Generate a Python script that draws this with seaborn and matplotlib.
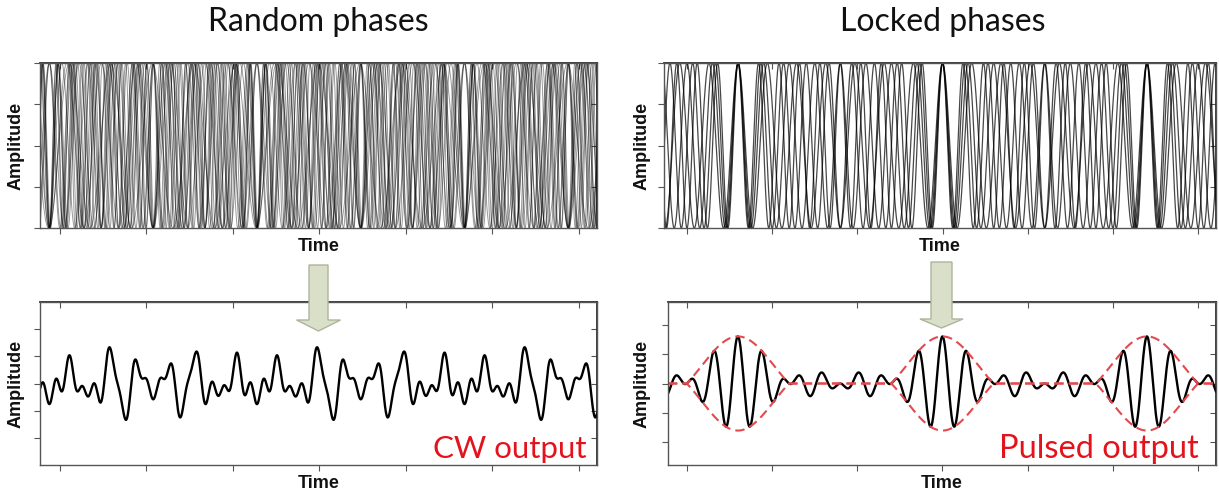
import numpy as np
import pandas as pd
import matplotlib
matplotlib.use("Agg")
import matplotlib.pyplot as plt
import seaborn as sns
from matplotlib.patches import Polygon

# repetition period of the mode comb, in the units of the x ticks (0..6)
PERIOD = 2.4
PULSE_T0 = 3.0

cw_time = [0.023, 0.070, 0.112, 0.158, 0.204, 0.254, 0.331, 0.397, 0.474, 0.525,
           0.574, 0.616, 0.658, 0.712, 0.766, 0.820, 0.870, 0.910, 0.947, 0.997,
           1.040, 1.082, 1.120, 1.159, 1.216, 1.282, 1.336, 1.390, 1.438, 1.486,
           1.534, 1.582, 1.630, 1.678, 1.755, 1.813, 1.882, 1.948, 2.000, 2.044,
           2.085, 2.121, 2.190, 2.256, 2.344]
cw_amp = [-0.24, 0.40, 1.07, 0.35, -0.30, -0.04, -0.45, -0.02, -0.67, 0.35,
          1.39, 0.75, 0.12, -0.60, -1.27, -0.15, 0.95, 0.55, 0.18, 0.21,
          -0.20, -0.64, -0.20, 0.24, 0.12, 0.81, -0.20, -1.21, -0.55, 0.12,
          0.70, 1.21, 0.25, -0.70, 0.06, -0.36, -0.08, -0.30, 0.40, 1.12,
          0.45, -0.24, -0.10, -0.63, 0.02]

# longitudinal modes (harmonics of 1/PERIOD)
random_modes = [5, 6, 7, 8, 9, 10, 11, 12, 13, 14, 15, 16]
locked_modes = [7, 8, 9, 10]
locked_amp = 0.4

# free running laser: amplitude and phase of each mode taken from the CW trace
t_pts = np.array(cw_time)
w_rand = 2 * np.pi * np.array(random_modes) / PERIOD
A = np.hstack([np.cos(np.outer(t_pts, w_rand)), np.sin(np.outer(t_pts, w_rand))])
lam = 0.03
A_reg = np.vstack([A, np.sqrt(lam) * np.eye(A.shape[1])])
b_reg = np.concatenate([cw_amp, np.zeros(A.shape[1])])
coef = np.linalg.lstsq(A_reg, b_reg, rcond=None)[0]
n = len(random_modes)
rand_amp = np.hypot(coef[:n], coef[n:])
rand_phase = np.arctan2(-coef[n:], coef[:n])

t = np.linspace(-0.3, 6.3, 4000)

rows_rand = []
for k, w, ph in zip(random_modes, w_rand, rand_phase):
    rows_rand.append(pd.DataFrame({"t": t, "y": np.cos(w * t + ph), "mode": k}))
df_rand = pd.concat(rows_rand)
cw_out = pd.DataFrame({"t": t, "y": sum(a * np.cos(w * t + ph)
                                         for a, w, ph in zip(rand_amp, w_rand, rand_phase))})

w_lock = 2 * np.pi * np.array(locked_modes) / PERIOD
rows_lock = []
for k, w in zip(locked_modes, w_lock):
    rows_lock.append(pd.DataFrame({"t": t, "y": np.cos(w * (t - PULSE_T0)), "mode": k}))
df_lock = pd.concat(rows_lock)
field = sum(locked_amp * np.exp(1j * w * (t - PULSE_T0)) for w in w_lock)
pulse_out = pd.DataFrame({"t": t, "y": field.real})
# envelope drawn only over the main lobe of each pulse
dt = (t - PULSE_T0 + PERIOD / 2) % PERIOD - PERIOD / 2
env = np.where(np.abs(dt) < PERIOD / len(locked_modes), np.abs(field), 0.0)
env_df = pd.DataFrame({"t": t, "up": env, "down": -env})

sns.set_theme(style="white")
plt.rcParams["font.family"] = ["Liberation Sans", "DejaVu Sans"]

W, H = 1219, 497
fig = plt.figure(figsize=(W / 100, H / 100), dpi=100)


def px_axes(x0, y0, x1, y1):
    return fig.add_axes([x0 / W, 1 - y1 / H, (x1 - x0) / W, (y1 - y0) / H])


def style(ax, xlim, ylim, yticks, ylab_x):
    ax.set_xlim(xlim)
    ax.set_ylim(ylim)
    ax.set_xticks(range(7))
    ax.set_yticks(yticks)
    ax.tick_params(labelbottom=False, labelleft=False, direction="out",
                   length=4, width=0.8, color="#555555", bottom=True, left=True)
    for s in ax.spines.values():
        s.set_color("#555555")
        s.set_linewidth(1.0)
    top = ax.secondary_xaxis("top")
    top.set_xticks(range(7))
    top.tick_params(direction="in", length=4, width=0.8, color="#555555", labeltop=False)
    right = ax.secondary_yaxis("right")
    right.set_yticks(yticks)
    right.tick_params(direction="in", length=4, width=0.8, color="#555555", labelright=False)
    ax.set_xlabel("Time", fontweight="bold", fontsize=13, color="#111111")
    ax.set_ylabel("Amplitude", fontweight="bold", fontsize=13, color="#111111")
    ax.xaxis.set_label_coords(0.5, -0.06)
    ax.yaxis.set_label_coords(ylab_x, 0.5)


top_ticks = [-1, -0.5, 0, 0.5, 1]
low_ticks = [-2, -1, 0, 1, 2]

ax_tl = px_axes(40, 63, 597, 228)
sns.lineplot(data=df_rand, x="t", y="y", units="mode", estimator=None, color="black",
             alpha=0.4, lw=0.7, ax=ax_tl, legend=False)
style(ax_tl, (-0.23, 6.21), (-1, 1), top_ticks, -0.027)

ax_tr = px_axes(664, 63, 1216, 228)
sns.lineplot(data=df_lock, x="t", y="y", units="mode", estimator=None, color="black",
             alpha=0.72, lw=0.9, ax=ax_tr, legend=False)
style(ax_tr, (-0.27, 6.21), (-1, 1), top_ticks, -0.024)

ax_bl = px_axes(40, 302, 597, 465)
sns.lineplot(data=cw_out, x="t", y="y", color="black", lw=1.7, ax=ax_bl)
style(ax_bl, (-0.23, 6.21), (-2.97, 2.97), low_ticks, -0.027)
ax_bl.text(0.982, 0.045, "CW output", transform=ax_bl.transAxes, ha="right",
           va="baseline", fontsize=22.5, color="#e3121b", family=["Lato", "DejaVu Sans"])

ax_br = px_axes(668, 302, 1216, 465)
sns.lineplot(data=pulse_out, x="t", y="y", color="black", lw=1.7, ax=ax_br)
sns.lineplot(data=env_df, x="t", y="up", color="#e24a4f", lw=1.5, ax=ax_br,
             linestyle=(0, (4.5, 2.5)))
sns.lineplot(data=env_df, x="t", y="down", color="#e24a4f", lw=1.5, ax=ax_br,
             linestyle=(0, (4.5, 2.5)))
style(ax_br, (-0.22, 6.21), (-2.77, 2.77), low_ticks, -0.031)
ax_br.text(0.969, 0.045, "Pulsed output", transform=ax_br.transAxes, ha="right",
           va="baseline", fontsize=23.5, color="#e3121b", family=["Lato", "DejaVu Sans"])

fig.text(318 / W, 1 - 22 / H, "Random phases", ha="center", va="center",
         fontsize=23, color="#111111", family=["Lato", "DejaVu Sans"])
fig.text(943 / W, 1 - 22 / H, "Locked phases", ha="center", va="center",
         fontsize=23, color="#111111", family=["Lato", "DejaVu Sans"])


def block_arrow(cx, top, head_y, tip, shaft_w, head_w):
    pts = [(cx - shaft_w / 2, top), (cx + shaft_w / 2, top), (cx + shaft_w / 2, head_y),
           (cx + head_w / 2, head_y), (cx, tip), (cx - head_w / 2, head_y),
           (cx - shaft_w / 2, head_y)]
    pts = [(x / W, 1 - y / H) for x, y in pts]
    fig.patches.append(Polygon(pts, closed=True, transform=fig.transFigure,
                               facecolor="#d9dfc9", edgecolor="#aeb59b", lw=1.0, zorder=5))


block_arrow(318.5, 265, 320, 331, 19, 44)
block_arrow(941.5, 262, 319, 328, 21, 43)

fig.savefig("out.png", dpi=100)
